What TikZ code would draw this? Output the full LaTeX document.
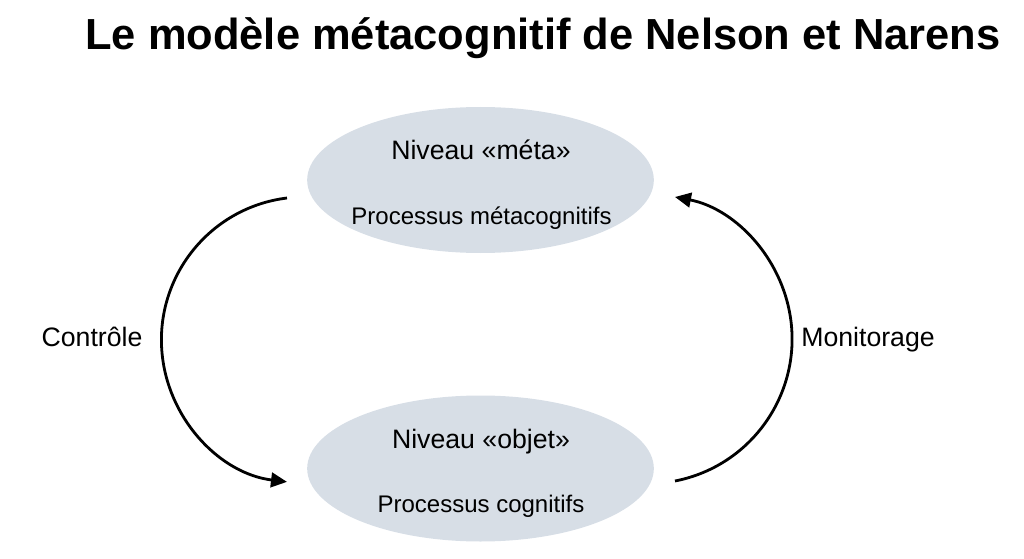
\documentclass[tikz,border=0pt]{standalone}
\usepackage{fontspec}
\setmainfont{Liberation Sans}
\usepackage{tikz}
\usetikzlibrary{shapes.geometric,arrows.meta}
\definecolor{niveaufond}{RGB}{215,222,230}
\tikzset{
	niveau/.style={ellipse,fill=niveaufond,inner sep=0pt,minimum width=260pt,minimum height=109.5pt},
	fleche/.style={-{Triangle[length=12pt,width=11pt]},line width=2.1pt},
	grand/.style={font=\fontsize{20}{24}\selectfont,anchor=base},
	petit/.style={font=\fontsize{18}{22}\selectfont,anchor=base}
}

\begin{document}
\begin{tikzpicture}[x=0.75pt,y=0.75pt]
		\useasboundingbox (0,0) rectangle (1024,558);
		\node[anchor=base,font=\fontsize{32.6}{40}\selectfont\bfseries] (titre) at (543,508) {Le modèle métacognitif de Nelson et Narens};
		
		\node[niveau] (meta) at (480.5,378) {};
		\node[niveau] (objet) at (480.5,89.5) {};
		
		\node[grand] (m1) at (481,398) {Niveau «méta»};
		\node[petit] (m2) at (481.5,334) {Processus métacognitifs};
		\node[grand] (o1) at (481,110) {Niveau «objet»};
		\node[petit] (o2) at (481,46) {Processus cognitifs};
		
		\coordinate (ca) at (287,360);
		\coordinate (ma) at (675,77);
		\draw[fleche] (ca) arc[start angle=97,end angle=263,radius=107.25pt];
		\draw[fleche] (ma) arc[start angle=-79,end angle=79,radius=108.5pt];
		
		\node[grand] (controle) at (92,212) {Contrôle};
		\node[grand] (monitorage) at (868,212) {Monitorage};
	\end{tikzpicture}
\end{document}
